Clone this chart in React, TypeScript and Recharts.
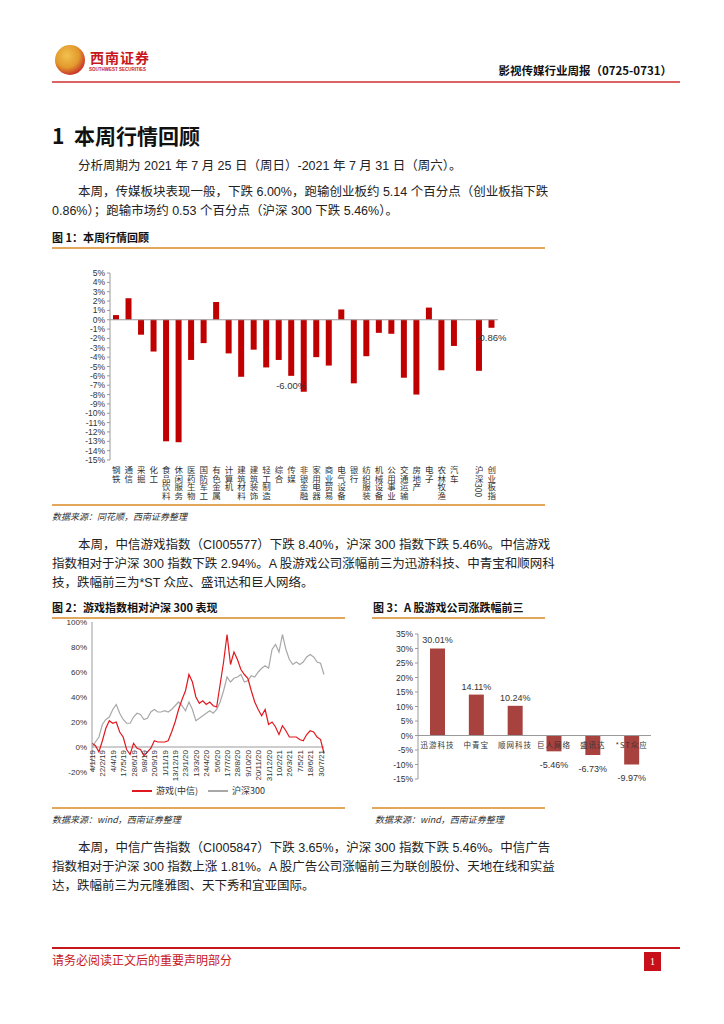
import React from 'react';
import { BarChart, Bar, LineChart, Line, XAxis, YAxis, ReferenceLine, LabelList } from 'recharts';

// 图1：申万行业本周涨跌幅
const industries = ['钢铁', '通信', '采掘', '化工', '食品饮料', '休闲服务', '医药生物', '国防军工', '有色金属', '计算机', '建筑材料', '建筑装饰', '轻工制造', '综合', '传媒', '非银金融', '家用电器', '商业贸易', '电气设备', '银行', '纺织服装', '机械设备', '公用事业', '交通运输', '房地产', '电子', '农林牧渔', '汽车', ' ', '沪深300', '创业板指'];
const weeklyChange = [0.5, 2.3, -1.6, -3.4, -13.0, -13.1, -4.3, -2.5, 1.9, -3.6, -6.1, -3.2, -5.1, -4.3, -6.0, -7.7, -4.0, -4.9, 1.1, -6.8, -3.9, -1.4, -1.5, -6.2, -8.0, 1.3, -5.4, -2.8, null, -5.46, -0.86];
const labelledIndustries = ['传媒', '沪深300', '创业板指'];
const industryTicks = [5, 4, 3, 2, 1, 0, -1, -2, -3, -4, -5, -6, -7, -8, -9, -10, -11, -12, -13, -14, -15];

// 图2：游戏指数相对沪深300（累计涨跌幅，%）
const dateLabels = ['4/1/19', '22/2/19', '4/4/19', '17/5/19', '28/6/19', '9/8/19', '20/9/19', '1/11/19', '13/12/19', '23/1/20', '13/3/20', '24/4/20', '5/6/20', '17/7/20', '28/8/20', '9/10/20', '20/11/20', '31/12/20', '10/2/21', '26/3/21', '7/5/21', '18/6/21', '30/7/21'];
const gameIndex = [3, 1, -4, 5, 15, 21, 19, 20, 12, 8, -2, -6, 3, -1, -2, -7, -4, -1, 5, 4, 4, 4, 5, 12, 20, 30, 38, 45, 58, 52, 40, 35, 37, 34, 36, 33, 32, 50, 68, 90, 66, 76, 70, 62, 58, 55, 45, 36, 30, 25, 30, 18, 20, 16, 10, 17, 13, 8, 8, 8, 6, 5, 10, 13, 12, 8, 6, -5];
const hs300 = [0, 4, 8, 18, 22, 24, 30, 34, 27, 22, 19, 19, 24, 27, 26, 22, 23, 28, 30, 28, 28, 29, 28, 30, 33, 36, 33, 29, 36, 30, 21, 23, 25, 27, 29, 27, 30, 36, 45, 56, 52, 55, 56, 58, 52, 53, 57, 56, 60, 63, 65, 63, 78, 82, 76, 90, 78, 70, 66, 68, 66, 68, 72, 74, 72, 68, 67, 58];
const relTicks = [100, 80, 60, 40, 20, 0, -20];

// 图3：A股游戏公司涨跌幅前三
const gameCompanies = ['迅游科技', '中青宝', '顺网科技', '巨人网络', '盛讯达', '*ST众应'];
const companyChange = [30.01, 14.11, 10.24, -5.46, -6.73, -9.97];
const companyTicks = [35, 30, 25, 20, 15, 10, 5, 0, -5, -10, -15];

const industryData = industries.map((name, i) => ({ name, value: weeklyChange[i] }));
const relData = gameIndex.map((g, i) => ({ k: i, game: g, hs: hs300[i] }));
const companyData = gameCompanies.map((name, i) => ({ name, value: companyChange[i] }));

const SANS = '"Liberation Sans", Arial, "Noto Sans CJK SC", sans-serif';
const CJK = '"Noto Sans CJK SC", "Liberation Sans", sans-serif';
const ORANGE = '#E2A75B';
const AXIS = '#9a9a9a';

const pct = (v: number) => `${v}%`;

// vertical category label (digits turn sideways, like the Excel original)
const VerticalTick = (props: any) => {
  const { x, y, payload } = props;
  const label = String(payload.value).trim();
  if (!label) return null;
  return (
    <text x={x} y={y + 6} fontSize={8.5} fill="#333" fontFamily={CJK} style={{ writingMode: 'vertical-rl' }}>
      {label}
    </text>
  );
};

const RotatedDateTick = (props: any) => {
  const { x, y, payload } = props;
  const label = dateLabels[Math.round(payload.value / 3)];
  const ty = y - 22;
  return (
    <text x={x + 3} y={ty} transform={`rotate(-90 ${x + 3} ${ty})`} textAnchor="end" fontSize={8} fill="#333" fontFamily={SANS}>
      {label}
    </text>
  );
};

const ZeroLineTick = (props: any) => {
  const { x, y, payload } = props;
  return (
    <text x={x} y={y - 31} textAnchor="middle" fontSize={7.5} letterSpacing={1} fill="#333" fontFamily={CJK}>
      {payload.value}
    </text>
  );
};

const IndustryLabel = (props: any) => {
  const { x, y, width, height, value, index } = props;
  if (value == null || !labelledIndustries.includes(industries[index])) return null;
  const bottom = Math.max(y, y + height);
  return (
    <text x={x + width / 2} y={bottom + 13} textAnchor="middle" fontSize={9.5} fill="#333" fontFamily={SANS}>
      {value.toFixed(2)}%
    </text>
  );
};

const CompanyLabel = (props: any) => {
  const { x, y, width, height, value } = props;
  const top = Math.min(y, y + height);
  const bottom = Math.max(y, y + height);
  return (
    <text x={x + width / 2} y={value >= 0 ? top - 5 : bottom + 17} textAnchor="middle" fontSize={9} fill="#333" fontFamily={SANS}>
      {value.toFixed(2)}%
    </text>
  );
};

const TextLine = ({ left, top, width, text, full }: { left: number; top: number; width: number; text: string; full?: boolean }) => (
  <div
    style={{
      position: 'absolute',
      left,
      top: top - 10,
      width,
      height: 20,
      lineHeight: '20px',
      fontSize: 12.5,
      color: '#222',
      fontFamily: SANS,
      whiteSpace: 'nowrap',
      textAlign: 'left',
      textAlignLast: full ? 'justify' : 'left',
    }}
  >
    {text}
  </div>
);

const Paragraph = ({ top, lines }: { top: number; lines: string[] }) => (
  <>
    {lines.map((t, i) => (
      <TextLine
        key={i}
        left={i === 0 ? 78 : 52}
        width={i === 0 ? 467 : 493}
        top={top + i * 19}
        text={t}
        full={i < lines.length - 1}
      />
    ))}
  </>
);

const Rule = ({ left, top, width, color = ORANGE, h = 2 }: { left: number; top: number; width: number; color?: string; h?: number }) => (
  <div style={{ position: 'absolute', left, top, width, height: h, background: color }} />
);

const Caption = ({ left, top, text }: { left: number; top: number; text: string }) => (
  <div style={{ position: 'absolute', left, top: top - 8, fontSize: 11, fontWeight: 'bold', lineHeight: '16px', color: '#111', fontFamily: CJK, whiteSpace: 'nowrap' }}>
    {text}
  </div>
);

const Source = ({ left, top, text }: { left: number; top: number; text: string }) => (
  <div style={{ position: 'absolute', left, top: top - 7, fontSize: 9, fontStyle: 'italic', lineHeight: '14px', color: '#333', fontFamily: CJK, whiteSpace: 'nowrap' }}>
    {text}
  </div>
);

export default function App() {
  return (
    <div style={{ position: 'absolute', left: 0, top: 0, width: 724, height: 1024, background: '#fff', overflow: 'hidden', fontFamily: SANS }}>
      {/* header */}
      <div style={{ position: 'absolute', left: 55, top: 45, width: 30, height: 30, borderRadius: 15, background: 'radial-gradient(circle at 40% 35%, #F2C14E 0%, #E39A2D 45%, #C8322A 75%, #E7B44A 100%)' }} />
      <div style={{ position: 'absolute', left: 90, top: 49, fontSize: 14, fontWeight: 'bold', color: '#C8161D', fontFamily: CJK, letterSpacing: 1, lineHeight: '16px' }}>西南证券</div>
      <div style={{ position: 'absolute', left: 89, top: 67, fontSize: 4.5, color: '#C8161D', fontFamily: SANS, lineHeight: '6px', fontWeight: 'bold' }}>SOUTHWEST SECURITIES</div>
      <div style={{ position: 'absolute', right: 52, top: 62, fontSize: 11.5, fontWeight: 'bold', color: '#111', fontFamily: CJK, lineHeight: '16px' }}>影视传媒行业周报（0725-0731）</div>
      <Rule left={52} top={81} width={628} color="#DA6464" h={2} />

      {/* section */}
      <div style={{ position: 'absolute', left: 52, top: 122, fontSize: 21, fontWeight: 'bold', color: '#111', fontFamily: CJK, lineHeight: '26px' }}>1&nbsp;&nbsp;本周行情回顾</div>
      <Paragraph top={166} lines={['分析周期为 2021 年 7 月 25 日（周日）-2021 年 7 月 31 日（周六）。']} />
      <Paragraph top={192} lines={['本周，传媒板块表现一般，下跌 6.00%，跑输创业板约 5.14 个百分点（创业板指下跌', '0.86%）；跑输市场约 0.53 个百分点（沪深 300 下跌 5.46%）。']} />

      {/* figure 1 */}
      <Caption left={52} top={237} text="图 1：本周行情回顾" />
      <Rule left={52} top={247} width={493} />
      <div style={{ position: 'absolute', left: 52, top: 255 }}>
        <BarChart width={456} height={249} data={industryData} margin={{ top: 18, right: 10, bottom: 0, left: 0 }} barSize={6}>
          <YAxis
            width={58}
            domain={[-15, 5]}
            ticks={industryTicks}
            interval={0}
            tickFormatter={pct}
            tick={{ fontSize: 8.5, fill: '#333', fontFamily: SANS }}
            tickSize={3}
            tickMargin={2}
            axisLine={{ stroke: AXIS }}
            tickLine={{ stroke: AXIS }}
          />
          <XAxis dataKey="name" interval={0} height={44} tickSize={0} tickMargin={0} axisLine={false} tickLine={false} tick={<VerticalTick />} />
          <ReferenceLine y={0} stroke={AXIS} />
          <Bar dataKey="value" fill="#C00000" isAnimationActive={false}>
            <LabelList dataKey="value" content={<IndustryLabel />} />
          </Bar>
        </BarChart>
      </div>
      <Rule left={52} top={504} width={493} />
      <Source left={52} top={517} text="数据来源：同花顺，西南证券整理" />

      <Paragraph top={545} lines={['本周，中信游戏指数（CI005577）下跌 8.40%，沪深 300 指数下跌 5.46%。中信游戏', '指数相对于沪深 300 指数下跌 2.94%。A 股游戏公司涨幅前三为迅游科技、中青宝和顺网科', '技，跌幅前三为*ST 众应、盛讯达和巨人网络。']} />

      {/* figure 2 */}
      <Caption left={52} top={607} text="图 2：游戏指数相对沪深 300 表现" />
      <Rule left={52} top={617} width={293} />
      <div style={{ position: 'absolute', left: 52, top: 618 }}>
        <LineChart width={295} height={190} data={relData} margin={{ top: 4, right: 23, bottom: 0, left: 0 }}>
          <YAxis
            width={40}
            domain={[-20, 100]}
            ticks={relTicks}
            interval={0}
            tickFormatter={pct}
            tick={{ fontSize: 8, fill: '#333', fontFamily: SANS }}
            tickSize={0}
            tickMargin={5}
            axisLine={{ stroke: AXIS }}
          />
          <XAxis
            dataKey="k"
            type="number"
            domain={[0, 67]}
            ticks={dateLabels.map((_, i) => i * 3)}
            interval={0}
            height={36}
            tickSize={0}
            tickMargin={0}
            axisLine={false}
            tick={<RotatedDateTick />}
          />
          <ReferenceLine y={0} stroke={AXIS} />
          <Line dataKey="hs" stroke="#A8A8A8" strokeWidth={1.2} dot={false} isAnimationActive={false} />
          <Line dataKey="game" stroke="#E0191F" strokeWidth={1.2} dot={false} isAnimationActive={false} />
        </LineChart>
      </div>
      <div style={{ position: 'absolute', left: 132, top: 784, display: 'flex', alignItems: 'center', fontSize: 9, color: '#333', fontFamily: CJK, lineHeight: '14px' }}>
        <span style={{ display: 'inline-block', width: 20, height: 1.5, background: '#E0191F', marginRight: 4 }} />
        <span>游戏(中信)</span>
        <span style={{ display: 'inline-block', width: 20, height: 1.5, background: '#A8A8A8', margin: '0 4px 0 10px' }} />
        <span>沪深300</span>
      </div>
      <Rule left={52} top={807} width={293} />
      <Source left={52} top={820} text="数据来源：wind，西南证券整理" />

      {/* figure 3 */}
      <Caption left={373} top={607} text="图 3：A 股游戏公司涨跌幅前三" />
      <Rule left={372} top={617} width={173} />
      <div style={{ position: 'absolute', left: 372, top: 618 }}>
        <BarChart width={300} height={190} data={companyData} margin={{ top: 16, right: 21, bottom: 0, left: 0 }} barSize={15}>
          <YAxis
            width={46}
            domain={[-15, 35]}
            ticks={companyTicks}
            interval={0}
            tickFormatter={pct}
            tick={{ fontSize: 8.5, fill: '#333', fontFamily: SANS }}
            tickSize={3}
            tickMargin={2}
            axisLine={{ stroke: AXIS }}
            tickLine={{ stroke: AXIS }}
          />
          <XAxis dataKey="name" interval={0} height={29} tickSize={0} tickMargin={0} axisLine={false} tickLine={false} tick={<ZeroLineTick />} />
          <ReferenceLine y={0} stroke={AXIS} />
          <Bar dataKey="value" fill="#A8423F" isAnimationActive={false}>
            <LabelList dataKey="value" content={<CompanyLabel />} />
          </Bar>
        </BarChart>
      </div>
      <Rule left={372} top={807} width={173} />
      <Source left={375} top={820} text="数据来源：wind，西南证券整理" />

      <Paragraph top={848} lines={['本周，中信广告指数（CI005847）下跌 3.65%，沪深 300 指数下跌 5.46%。中信广告', '指数相对于沪深 300 指数上涨 1.81%。A 股广告公司涨幅前三为联创股份、天地在线和实益', '达，跌幅前三为元隆雅图、天下秀和宜亚国际。']} />

      {/* footer */}
      <Rule left={52} top={947} width={628} color="#C8161D" h={1.5} />
      <div style={{ position: 'absolute', left: 52, top: 952, fontSize: 12, color: '#C8161D', fontFamily: CJK, lineHeight: '16px' }}>请务必阅读正文后的重要声明部分</div>
      <div style={{ position: 'absolute', left: 644, top: 952, width: 17, height: 19, background: '#C8101A', color: '#fff', fontSize: 10, fontFamily: '"Liberation Serif", serif', textAlign: 'center', lineHeight: '19px' }}>1</div>
    </div>
  );
}
